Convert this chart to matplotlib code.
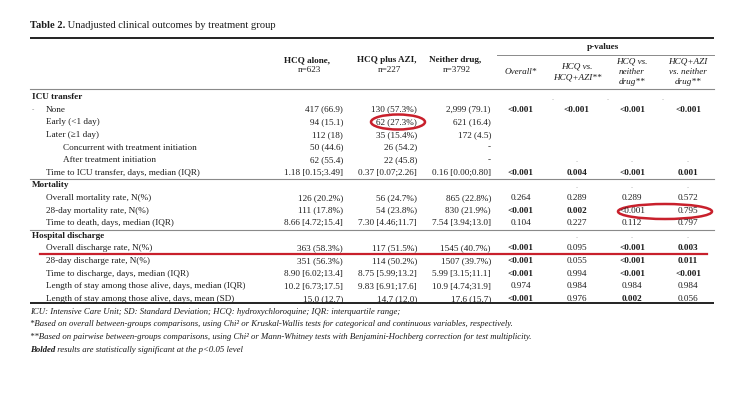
import matplotlib
matplotlib.use("Agg")
import matplotlib.pyplot as plt
from matplotlib.patches import Ellipse

plt.rcParams['font.family'] = ['Liberation Serif', 'DejaVu Serif']

title_bold = "Table 2."
title_rest = " Unadjusted clinical outcomes by treatment group"

group_headers = ["HCQ alone,\nn=623", "HCQ plus AZI,\nn=227", "Neither drug,\nn=3792"]
pval_header = "p-values"
pval_subheaders = ["Overall*", "HCQ vs.\nHCQ+AZI**", "HCQ vs.\nneither\ndrug**",
                   "HCQ+AZI\nvs. neither\ndrug**"]

# row kind: 'sec' = section heading, 'row' = normal row, 'sub' = indented sub row
row_kinds = ['sec', 'row', 'row', 'row', 'sub', 'sub', 'row',
             'sec', 'row', 'row', 'row',
             'sec', 'row', 'row', 'row', 'row', 'row']
row_labels = ["ICU transfer", "None", "Early (<1 day)", "Later (\u22651 day)",
              "Concurrent with treatment initiation", "After treatment initiation",
              "Time to ICU transfer, days, median (IQR)",
              "Mortality", "Overall mortality rate, N(%)", "28-day mortality rate, N(%)",
              "Time to death, days, median (IQR)",
              "Hospital discharge", "Overall discharge rate, N(%)", "28-day discharge rate, N(%)",
              "Time to discharge, days, median (IQR)",
              "Length of stay among those alive, days, median (IQR)",
              "Length of stay among those alive, days, mean (SD)"]

hcq_alone = ["", "417 (66.9)", "94 (15.1)", "112 (18)", "50 (44.6)", "62 (55.4)", "1.18 [0.15;3.49]",
             "", "126 (20.2%)", "111 (17.8%)", "8.66 [4.72;15.4]",
             "", "363 (58.3%)", "351 (56.3%)", "8.90 [6.02;13.4]", "10.2 [6.73;17.5]", "15.0 (12.7)"]
hcq_azi = ["", "130 (57.3%)", "62 (27.3%)", "35 (15.4%)", "26 (54.2)", "22 (45.8)", "0.37 [0.07;2.26]",
           "", "56 (24.7%)", "54 (23.8%)", "7.30 [4.46;11.7]",
           "", "117 (51.5%)", "114 (50.2%)", "8.75 [5.99;13.2]", "9.83 [6.91;17.6]", "14.7 (12.0)"]
neither = ["", "2,999 (79.1)", "621 (16.4)", "172 (4.5)", "-", "-", "0.16 [0.00;0.80]",
           "", "865 (22.8%)", "830 (21.9%)", "7.54 [3.94;13.0]",
           "", "1545 (40.7%)", "1507 (39.7%)", "5.99 [3.15;11.1]", "10.9 [4.74;31.9]", "17.6 (15.7)"]

p_overall = ["", "<0.001", "", "", "", "", "<0.001",
             "", "0.264", "<0.001", "0.104",
             "", "<0.001", "<0.001", "<0.001", "0.974", "<0.001"]
p_hcq_vs_azi = ["", "<0.001", "", "", "", "", "0.004",
                "", "0.289", "0.002", "0.227",
                "", "0.095", "0.055", "0.994", "0.984", "0.976"]
p_hcq_vs_neither = ["", "<0.001", "", "", "", "", "<0.001",
                    "", "0.289", "<0.001", "0.112",
                    "", "<0.001", "<0.001", "<0.001", "0.984", "0.002"]
p_azi_vs_neither = ["", "<0.001", "", "", "", "", "0.001",
                    "", "0.572", "0.795", "0.797",
                    "", "0.003", "0.011", "<0.001", "0.984", "0.056"]
# bold flags for p-value cells (as printed)
b_overall = [0, 1, 0, 0, 0, 0, 1, 0, 0, 1, 0, 0, 1, 1, 1, 0, 1]
b_hcq_vs_azi = [0, 1, 0, 0, 0, 0, 1, 0, 0, 1, 0, 0, 0, 0, 0, 0, 0]
b_hcq_vs_neither = [0, 1, 0, 0, 0, 0, 1, 0, 0, 0, 0, 0, 1, 1, 1, 0, 1]
b_azi_vs_neither = [0, 1, 0, 0, 0, 0, 1, 0, 0, 0, 0, 0, 1, 1, 1, 0, 0]

footnotes = [
    "ICU: Intensive Care Unit; SD: Standard Deviation; HCQ: hydroxychloroquine; IQR: interquartile range;",
    "*Based on overall between-groups comparisons, using Chi\u00b2 or Kruskal-Wallis tests for categorical and continuous variables, respectively.",
    "**Based on pairwise between-groups comparisons, using Chi\u00b2 or Mann-Whitney tests with Benjamini-Hochberg correction for test multiplicity.",
]
footnote_bold = "Bolded"
footnote_last = " results are statistically significant at the p<0.05 level"

# ---------------- drawing ----------------
W, H = 731, 400
fig = plt.figure(figsize=(W / 100, H / 100), dpi=100)
ax = fig.add_axes([0, 0, 1, 1])
ax.set_xlim(0, W)
ax.set_ylim(H, 0)
ax.axis('off')

TXT = '#1c1c1c'
GRAY = '#8a8a8a'
RED = '#c8202c'
FS = 6.6
FFS = 6.3
left = 30
right = 714

# title
t = ax.text(left, 26, title_bold, fontsize=7.6, fontweight='bold', color=TXT, va='center', ha='left')
fig.canvas.draw()
bb = t.get_window_extent()
x_after = ax.transData.inverted().transform((bb.x1, bb.y0))[0]
ax.text(x_after, 26, title_rest, fontsize=7.6, color=TXT, va='center', ha='left')

# rules
ax.plot([left, right], [38, 38], color='#111111', lw=1.3, solid_capstyle='butt')
ax.plot([497, right], [54.5, 54.5], color=GRAY, lw=0.7)
ax.plot([left, right], [89, 89], color=GRAY, lw=0.8)
ax.plot([left, right], [303, 303], color='#111111', lw=1.3, solid_capstyle='butt')

# headers
group_right = [343, 417, 491]
group_hcenter = [307, 387, 455]
for hx, txt in zip(group_hcenter, group_headers):
    top, bottom = txt.split("\n")
    ax.text(hx, 60, top, fontsize=FS, fontweight='bold', color=TXT, ha='center', va='center')
    ax.text(hx + 2, 70.5, bottom, fontsize=FS, color=TXT, ha='center', va='center')

ax.text(603, 47, pval_header, fontsize=FS, fontweight='bold', color=TXT, ha='center', va='center')
p_centers = [521, 577, 632, 688]
line_gap = 10.3
for px, txt in zip(p_centers, pval_subheaders):
    parts = txt.split("\n")
    n = len(parts)
    for k, part in enumerate(parts):
        yy = 72 + (k - (n - 1) / 2) * line_gap
        ax.text(px, yy, part, fontsize=FS, style='italic', color=TXT, ha='center', va='center')

# body rows
y0 = 97
step = 12.625
group_cols = [hcq_alone, hcq_azi, neither]
p_cols = [p_overall, p_hcq_vs_azi, p_hcq_vs_neither, p_azi_vs_neither]
b_cols = [b_overall, b_hcq_vs_azi, b_hcq_vs_neither, b_azi_vs_neither]
label_x = {'sec': 32, 'row': 46, 'sub': 63}
section_rows = []
for i, (kind, lab) in enumerate(zip(row_kinds, row_labels)):
    y = y0 + i * step
    if kind == 'sec':
        section_rows.append(i)
        ax.text(label_x[kind], y, lab, fontsize=FS, fontweight='bold', color=TXT, ha='left', va='center')
    else:
        ax.text(label_x[kind], y, lab, fontsize=FS, color=TXT, ha='left', va='center')
    for cx, col in zip(group_right, group_cols):
        if col[i]:
            ax.text(cx, y, col[i], fontsize=FS, color=TXT, ha='right', va='center')
    for px, col, bcol in zip(p_centers, p_cols, b_cols):
        if col[i]:
            ax.text(px, y, col[i], fontsize=FS, color=TXT, ha='center', va='center',
                    fontweight='bold' if bcol[i] else 'normal')

# separators between sections
for si in section_rows[1:]:
    ys = y0 + si * step - step / 2
    ax.plot([left, right], [ys, ys], color=GRAY, lw=0.8)

# faint dash artefacts
ax.text(33, y0 + step, "-", fontsize=5, color='#777777', ha='center', va='center')
for px in [553, 608, 663]:
    ax.text(px, 100, "-", fontsize=4.5, color='#aaaaaa', ha='center', va='center')
for yy in [162, 188, 238]:
    for px in p_centers[1:]:
        ax.text(px, yy, "-", fontsize=4.5, color='#aaaaaa', ha='center', va='center')

# footnotes
fy = [312, 324.5, 337]
for y, txt in zip(fy, footnotes):
    ax.text(left, y, txt, fontsize=FFS, style='italic', color=TXT, ha='left', va='center')
tb = ax.text(left, 349.5, footnote_bold, fontsize=FFS, style='italic', fontweight='bold',
             color=TXT, ha='left', va='center')
fig.canvas.draw()
bb = tb.get_window_extent()
x_after = ax.transData.inverted().transform((bb.x1, bb.y0))[0]
ax.text(x_after, 349.5, footnote_last, fontsize=FFS, style='italic', color=TXT, ha='left', va='center')

# red annotations
ax.add_patch(Ellipse((398, 122), 54, 15, fill=False, edgecolor=RED, lw=1.8))
ax.add_patch(Ellipse((665, 211.5), 94, 15, fill=False, edgecolor=RED, lw=1.8))
ax.plot([40, 707], [254, 254], color=RED, lw=1.6)

fig.savefig("out.png", dpi=100, facecolor='white')
